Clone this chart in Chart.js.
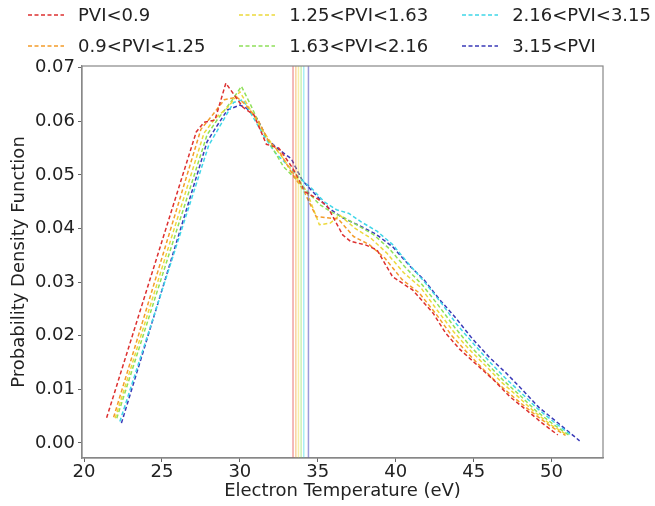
<!DOCTYPE html>
<html>
<head>
<meta charset="utf-8">
<script src="https://cdn.jsdelivr.net/npm/chart.js@4.4.0/dist/chart.umd.min.js"></script>
<style>
  body { margin: 0; background: #fff; font-family: "DejaVu Sans", sans-serif; }
  #wrap { position: relative; width: 655px; height: 506px; }
  #legend {
    position: absolute; top: -1px; left: 28px;
    display: grid; grid-template-columns: auto auto auto; grid-auto-flow: column;
    grid-template-rows: 31px 31px; column-gap: 34px;
    font-size: 18px; color: #222; white-space: nowrap;
  }
  .item { display: flex; align-items: center; }
  .sw { width: 36px; height: 4px; margin-right: 14px; }
</style>
</head>
<body>
<div id="wrap">
  <canvas id="chart" width="655" height="506"></canvas>
  <div id="legend"></div>
</div>
<script>
// series labels and colours
const labels = ['PVI<0.9', '0.9<PVI<1.25', '1.25<PVI<1.63', '1.63<PVI<2.16', '2.16<PVI<3.15', '3.15<PVI'];
const colors = ['#dd3030', '#f39c2a', '#ecd93b', '#8fe05a', '#3fd6e8', '#3a3ab8'];
const vlineColors = ['rgba(221,48,48,0.45)', 'rgba(243,156,42,0.45)', 'rgba(236,217,59,0.45)',
                     'rgba(143,224,90,0.45)', 'rgba(63,214,232,0.45)', 'rgba(58,58,184,0.5)'];

// mean temperature of each group (vertical lines)
const means = [33.41, 33.59, 33.76, 33.93, 34.10, 34.40];

// PDF curves, [Te, pdf]
const pviLt09 = [[21.45,0.0047],[27.2,0.0580],[27.7,0.0598],[28.4,0.0602],[29.1,0.0671],[30.2,0.0626],
  [30.9,0.0612],[31.7,0.0557],[32.5,0.0550],[33.4,0.0512],[34.2,0.0468],[35.0,0.0455],[35.6,0.0442],
  [36.6,0.0388],[37.1,0.0376],[38.1,0.0369],[38.8,0.0360],[39.8,0.0310],[41.1,0.0285],[42.4,0.0242],
  [43.2,0.0205],[44.1,0.0175],[45.2,0.0146],[46.3,0.0117],[47.3,0.0087],[48.4,0.0061],[49.4,0.0037],[50.4,0.0015]];
const pvi09to125 = [[21.9,0.0048],[27.5,0.0585],[28.2,0.0610],[29.0,0.0640],[29.8,0.0645],[30.4,0.0630],
  [31.2,0.0600],[31.8,0.0565],[32.6,0.0540],[33.3,0.0505],[34.1,0.0470],[34.9,0.0422],[35.6,0.0420],
  [36.3,0.0418],[37.3,0.0385],[38.3,0.0370],[39.3,0.0345],[40.4,0.0305],[41.5,0.0280],[42.6,0.0240],
  [43.6,0.0200],[44.6,0.0168],[45.6,0.0138],[46.6,0.0110],[47.7,0.0082],[48.8,0.0056],[49.9,0.0032],[50.9,0.0014]];
const pvi125to163 = [[22.0,0.0046],[27.7,0.0578],[28.4,0.0605],[29.2,0.0625],[30.0,0.0655],[30.6,0.0625],
  [31.3,0.0590],[32.0,0.0560],[32.8,0.0530],[33.5,0.0500],[34.3,0.0468],[35.1,0.0407],[35.8,0.0410],
  [36.4,0.0425],[37.4,0.0400],[38.4,0.0382],[39.4,0.0355],[40.5,0.0318],[41.6,0.0290],[42.6,0.0250],
  [43.7,0.0208],[44.7,0.0175],[45.8,0.0143],[46.8,0.0113],[47.9,0.0085],[48.9,0.0058],[50.0,0.0033],[51.0,0.0015]];
const pvi163to216 = [[22.1,0.0046],[27.9,0.0575],[28.6,0.0605],[29.4,0.0635],[30.1,0.0665],[30.7,0.0630],
  [31.4,0.0585],[32.1,0.0550],[32.8,0.0515],[33.5,0.0495],[34.3,0.0470],[35.1,0.0445],[35.9,0.0430],
  [36.7,0.0420],[37.6,0.0405],[38.6,0.0388],[39.6,0.0362],[40.6,0.0328],[41.7,0.0295],[42.7,0.0258],
  [43.8,0.0215],[44.8,0.0180],[45.9,0.0147],[46.9,0.0117],[48.0,0.0088],[49.0,0.0060],[50.1,0.0035],[51.1,0.0015]];
const pvi216to315 = [[22.3,0.0040],[28.0,0.0555],[28.8,0.0595],[29.6,0.0635],[30.2,0.0640],[30.9,0.0605],
  [31.6,0.0570],[32.3,0.0540],[33.0,0.0520],[33.8,0.0495],[34.6,0.0475],[35.4,0.0450],[36.2,0.0435],
  [37.0,0.0428],[37.8,0.0412],[38.8,0.0395],[39.8,0.0370],[40.8,0.0335],[41.8,0.0302],[42.9,0.0262],
  [43.9,0.0222],[44.9,0.0188],[46.0,0.0152],[47.0,0.0122],[48.1,0.0092],[49.1,0.0064],[50.2,0.0038],[51.2,0.0016]];
const pviGt315 = [[22.4,0.0037],[27.9,0.0562],[28.5,0.0590],[29.2,0.0621],[30.0,0.0630],[30.4,0.0625],
  [31.1,0.0605],[31.8,0.0565],[32.6,0.0545],[33.3,0.0530],[34.0,0.0490],[34.7,0.0468],[35.6,0.0440],
  [36.6,0.0420],[37.7,0.0405],[38.7,0.0390],[39.8,0.0366],[40.9,0.0330],[41.8,0.0305],[42.8,0.0268],
  [43.8,0.0235],[44.9,0.0195],[46.0,0.0160],[47.1,0.0130],[48.1,0.0100],[49.2,0.0066],[50.3,0.0040],[51.8,0.0004]];
const curves = [pviLt09, pvi09to125, pvi125to163, pvi163to216, pvi216to315, pviGt315];

// axes
const xTicks = [20, 25, 30, 35, 40, 45, 50];
const yTicks = [0, 0.01, 0.02, 0.03, 0.04, 0.05, 0.06, 0.07];
const xRange = [19.87, 53.3];
const yRange = [-0.0028, 0.0703];

const datasets = [];
means.forEach((m, i) => {
  datasets.push({
    label: 'mean ' + labels[i],
    data: [{x: m, y: yRange[0]}, {x: m, y: yRange[1]}],
    borderColor: vlineColors[i], borderWidth: 1.5, pointRadius: 0
  });
});
curves.forEach((c, i) => {
  datasets.push({
    label: labels[i],
    data: c.map(p => ({x: p[0], y: p[1]})),
    borderColor: colors[i], borderWidth: 1.5, borderDash: [4, 2.5],
    pointRadius: 0, tension: 0
  });
});

// full box around the plot
const frame = {
  id: 'frame',
  afterDraw(chart) {
    const {ctx, chartArea: a} = chart;
    ctx.save();
    ctx.strokeStyle = '#888';
    ctx.lineWidth = 1.2;
    ctx.strokeRect(a.left, a.top, a.right - a.left, a.bottom - a.top);
    ctx.restore();
  }
};

const font = {family: '"DejaVu Sans"', size: 18};

new Chart(document.getElementById('chart'), {
  type: 'line',
  data: {datasets: datasets},
  options: {
    responsive: false,
    animation: false,
    layout: {padding: {top: 66, right: 52, left: 0, bottom: 0}},
    plugins: {legend: {display: false}, tooltip: {enabled: false}},
    scales: {
      x: {
        type: 'linear', min: xRange[0], max: xRange[1],
        afterBuildTicks: s => { s.ticks = xTicks.map(v => ({value: v})); },
        afterFit: s => { s.height = 48; },
        ticks: {font: font, color: '#222', padding: 0, maxRotation: 0, callback: v => String(v)},
        grid: {drawOnChartArea: false, tickLength: 4, tickColor: '#666'},
        border: {color: '#888', width: 1.2},
        title: {display: true, text: 'Electron Temperature (eV)', font: font, color: '#222', padding: {top: 0, bottom: 4}}
      },
      y: {
        type: 'linear', min: yRange[0], max: yRange[1],
        afterBuildTicks: s => { s.ticks = yTicks.map(v => ({value: v})); },
        afterFit: s => { s.width = 82; },
        ticks: {font: font, color: '#222', padding: 3, callback: v => v.toFixed(2)},
        grid: {drawOnChartArea: false, tickLength: 4, tickColor: '#666'},
        border: {color: '#888', width: 1.2},
        title: {display: true, text: 'Probability Density Function', font: font, color: '#222', padding: {top: 9, bottom: 0}}
      }
    }
  },
  plugins: [frame]
});

// legend, filled column by column like the original
const legend = document.getElementById('legend');
labels.forEach((l, i) => {
  const item = document.createElement('div');
  item.className = 'item';
  const sw = document.createElement('canvas');
  sw.className = 'sw';
  sw.width = 36;
  sw.height = 4;
  const c = sw.getContext('2d');
  c.strokeStyle = colors[i];
  c.lineWidth = 1.5;
  c.setLineDash([4, 2.5]);
  c.beginPath();
  c.moveTo(0, 2);
  c.lineTo(36, 2);
  c.stroke();
  const t = document.createElement('span');
  t.textContent = l;
  item.appendChild(sw);
  item.appendChild(t);
  legend.appendChild(item);
});
</script>
</body>
</html>
